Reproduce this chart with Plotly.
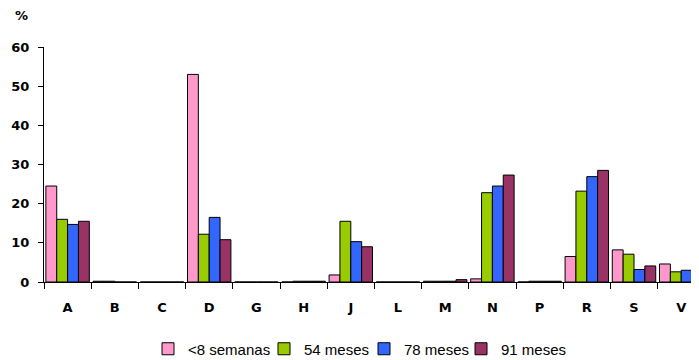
import plotly.graph_objects as go

categories = ["A", "B", "C", "D", "G", "H", "J", "L", "M", "N", "P", "R", "S", "V"]
series_names = ["<8 semanas", "54 meses", "78 meses", "91 meses"]
vals_8sem = [24.5, 0.2, 0, 53.0, 0, 0, 1.8, 0, 0.2, 0.8, 0, 6.5, 8.2, 4.6]
vals_54m = [16.0, 0.2, 0, 12.2, 0, 0.2, 15.5, 0, 0.2, 22.8, 0.2, 23.2, 7.1, 2.6]
vals_78m = [14.7, 0, 0, 16.5, 0, 0.2, 10.3, 0, 0.2, 24.5, 0.2, 26.9, 3.2, 3.0]
vals_91m = [15.5, 0, 0, 10.8, 0, 0.2, 9.0, 0, 0.6, 27.3, 0.2, 28.5, 4.1, 4.1]
y_ticks = [0, 10, 20, 30, 40, 50, 60]
colors = ["#FF99CC", "#99CC00", "#3366FF", "#993366"]

# page geometry (pixels); the page body has an 8px margin
OFF = 8
W, H = 699 - OFF, 360 - OFF
P_L, P_T, P_B, P_R = 44, 47, 282, 699
L, T, R = P_L - OFF, P_T - OFF, 0
B = H - (P_B - OFF)
plot_w = W - L - R
plot_h = H - T - B

legend_ids = ["legend", "legend2", "legend3", "legend4"]
legend_left_px = [148, 264, 364, 461]   # page x of each legend box
legend_mid_px = 349                     # page y of legend centre

fig = go.Figure()
for name, vals, col, lid in zip(series_names, [vals_8sem, vals_54m, vals_78m, vals_91m], colors, legend_ids):
    fig.add_trace(go.Bar(
        x=categories, y=vals, name=name, legend=lid,
        marker=dict(color=col, line=dict(color="black", width=1)),
    ))

tick_family = "DejaVu Sans, Verdana, sans-serif"
text_family = "Liberation Sans, Arial, sans-serif"

layout_legends = {}
for lid, lx in zip(legend_ids, legend_left_px):
    layout_legends[lid] = dict(
        orientation="h", xref="paper", yref="paper",
        x=(lx - P_L) / plot_w, xanchor="left",
        y=(P_B - legend_mid_px) / plot_h, yanchor="middle",
        font=dict(size=15, family=text_family, color="black"),
        itemwidth=30, bgcolor="rgba(0,0,0,0)", borderwidth=0,
    )

fig.update_layout(
    width=W, height=H,
    margin=dict(l=L, r=R, t=T, b=B, pad=0, autoexpand=False),
    paper_bgcolor="white", plot_bgcolor="white",
    barmode="group", bargap=0.08, bargroupgap=0,
    font=dict(family=text_family, color="black"),
    showlegend=True,
    xaxis=dict(
        type="category", range=[-0.5, 13.377], automargin=False,
        showline=True, linecolor="black", linewidth=1,
        ticks="outside", tickson="boundaries", ticklen=6, tickcolor="black",
        tickfont=dict(size=13, family=tick_family, color="black", weight="bold"),
        ticklabelstandoff=13, showgrid=False, zeroline=False,
    ),
    yaxis=dict(
        range=[0, 60], tickvals=y_ticks, automargin=False,
        showline=True, linecolor="black", linewidth=1,
        ticks="outside", ticklen=5, tickcolor="black",
        tickfont=dict(size=13, family=tick_family, color="black", weight="bold"),
        ticklabelstandoff=6, showgrid=False, zeroline=False,
    ),
    annotations=[dict(
        text="<b>%</b>", xref="paper", yref="paper",
        x=(21 - P_L) / plot_w, y=1 + (P_T - 16) / plot_h,
        xanchor="center", yanchor="middle", showarrow=False,
        font=dict(size=13, family=tick_family, color="black"),
    )],
    **layout_legends,
)

fig.write_html("out.html")
